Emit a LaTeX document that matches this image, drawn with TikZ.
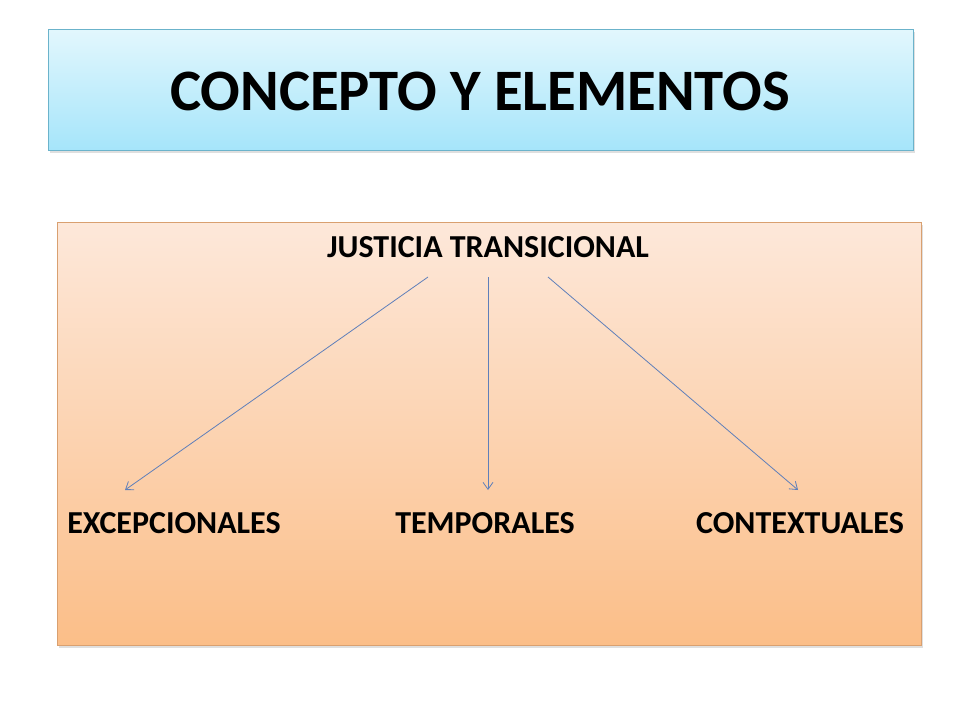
\documentclass[tikz,border=0pt]{standalone}
\usepackage{fontspec}
\setmainfont{Carlito}
\usetikzlibrary{arrows.meta,shadows}
\definecolor{titletop}{HTML}{E2F7FD}
\definecolor{titlebot}{HTML}{A6E5FA}
\definecolor{titleline}{HTML}{6BB3CB}
\definecolor{boxtop}{HTML}{FDE8DA}
\definecolor{boxbot}{HTML}{FBBE88}
\definecolor{boxline}{HTML}{D9A070}
\definecolor{arrowc}{HTML}{5F7FBA}
\tikzset{
  panel/.style={rectangle, inner sep=0pt, line width=0.8pt,
    drop shadow={shadow xshift=2pt, shadow yshift=-3pt, opacity=0.25}},
  lbl/.style={font=\fontsize{32}{36}\selectfont\bfseries, inner sep=0pt, anchor=base},
  conn/.style={draw=arrowc, line width=0.8pt, -{Straight Barb[length=7pt,width=10pt]}}
}
\begin{document}
\begin{tikzpicture}[x=1pt,y=-1pt]
\useasboundingbox (0,0) rectangle (960,720);
\fill[white] (0,0) rectangle (960,720);
\node[panel, draw=titleline, top color=titletop, bottom color=titlebot,
  minimum width=865pt, minimum height=121pt] (title) at (480.5,89.5) {};
\node[font=\fontsize{58.7}{64}\selectfont\bfseries, anchor=base] (titletext) at (480,110) {CONCEPTO Y ELEMENTOS};
\node[panel, draw=boxline, top color=boxtop, bottom color=boxbot,
  minimum width=864pt, minimum height=423pt] (box) at (489,433.5) {};
\node[lbl] (jt) at (488,257) {JUSTICIA TRANSICIONAL};
\node[lbl] (exc) at (174,533) {EXCEPCIONALES};
\node[lbl] (tem) at (485,533) {TEMPORALES};
\node[lbl] (con) at (800,533) {CONTEXTUALES};
\coordinate (s1) at (428,277);
\coordinate (s2) at (488,277);
\coordinate (s3) at (548,277);
\coordinate (e1) at (125,490);
\coordinate (e2) at (488,490);
\coordinate (e3) at (798,490);
\draw[conn] (s1) -- (e1);
\draw[conn] (s2) -- (e2);
\draw[conn] (s3) -- (e3);
\end{tikzpicture}
\end{document}
